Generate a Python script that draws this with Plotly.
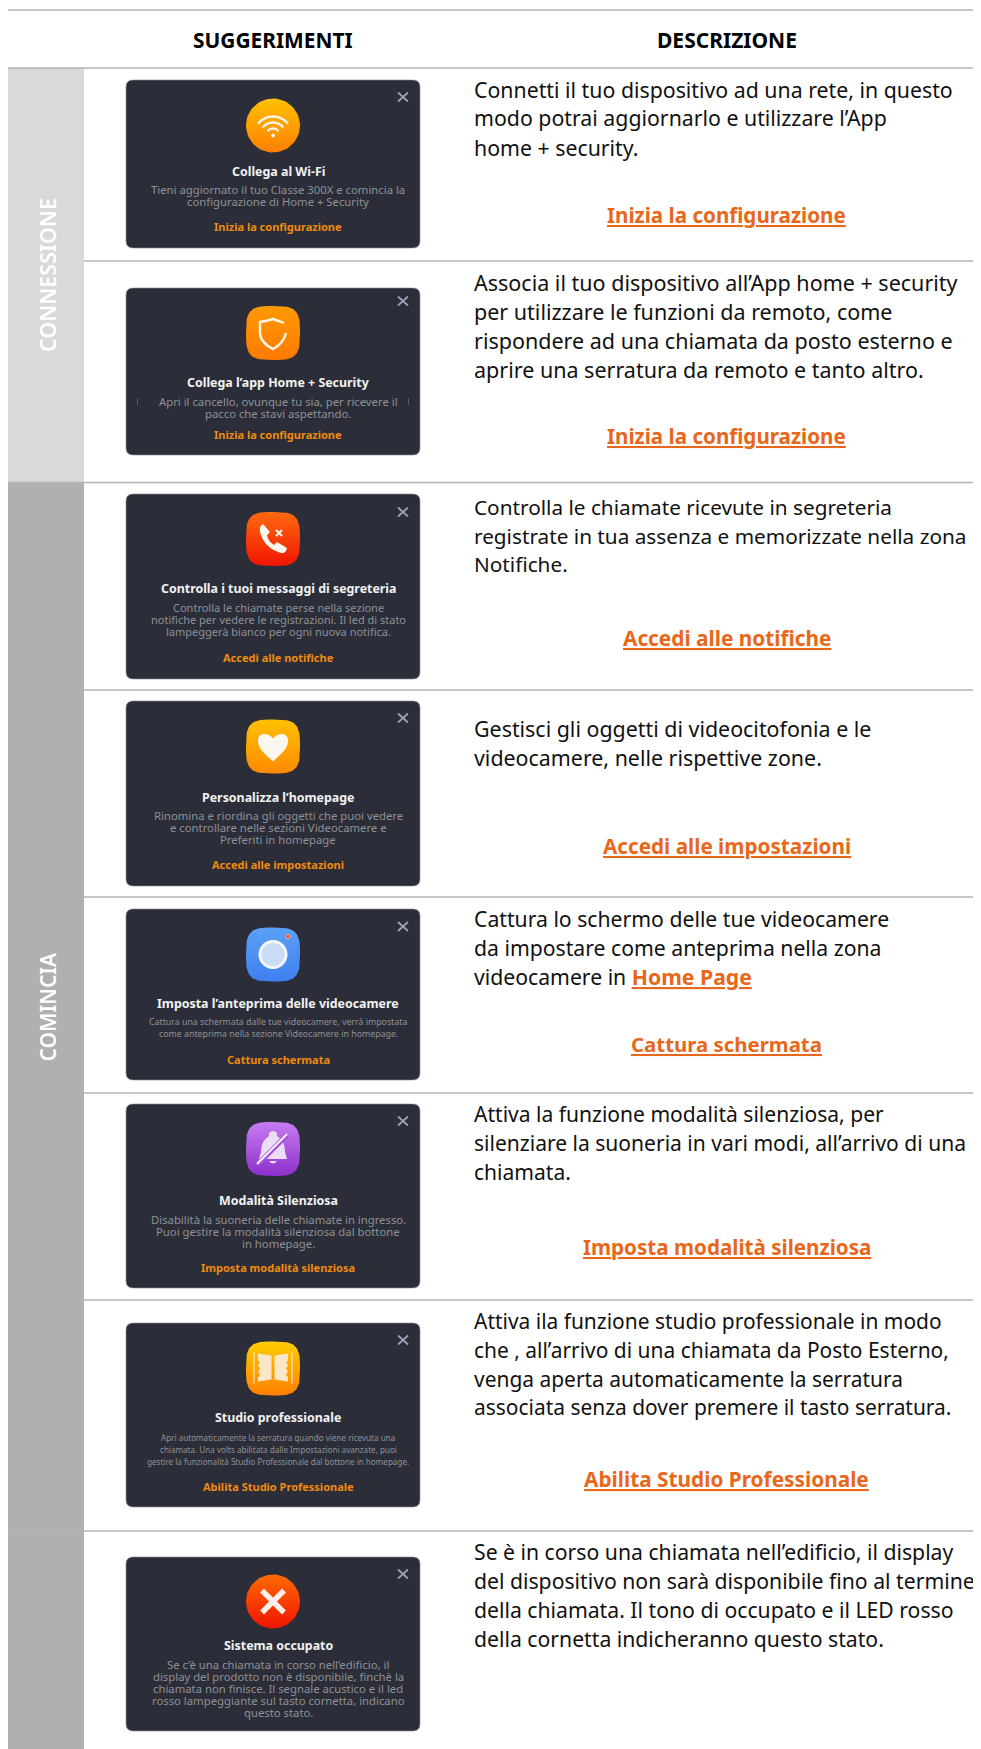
import math
import plotly.graph_objects as go

W, H = 981, 1749
FONT = "Noto Sans"

# ---------- content ----------
HEADERS = ["SUGGERIMENTI", "DESCRIZIONE"]
SECTIONS = ["CONNESSIONE", "COMINCIA"]
CARD_TITLES = ["Collega al Wi-Fi", "Collega l’app Home + Security", "Controlla i tuoi messaggi di segreteria",
               "Personalizza l’homepage", "Imposta l’anteprima delle videocamere", "Modalità Silenziosa",
               "Studio professionale", "Sistema occupato"]
CARD_DESCS = [
    ["Tieni aggiornato il tuo Classe 300X e comincia la", "configurazione di Home + Security"],
    ["Apri il cancello, ovunque tu sia, per ricevere il", "pacco che stavi aspettando."],
    ["Controlla le chiamate perse nella sezione", "notifiche per vedere le registrazioni. Il led di stato", "lampeggerà bianco per ogni nuova notifica."],
    ["Rinomina e riordina gli oggetti che puoi vedere", "e controllare nelle sezioni Videocamere e", "Preferiti in homepage"],
    ["Cattura una schermata dalle tue videocamere, verrà impostata", "come anteprima nella sezione Videocamere in homepage."],
    ["Disabilità la suoneria delle chiamate in ingresso.", "Puoi gestire la modalità silenziosa dal bottone", "in homepage."],
    ["Apri automaticamente la serratura quando viene ricevuta una", "chiamata. Una volts abilitata dalle Impostazioni avanzate, puoi", "gestire la funzionalità Studio Professionale dal bottone in homepage."],
    ["Se c’è una chiamata in corso nell’edificio, il", "display del prodotto non è disponibile, finchè la", "chiamata non finisce. Il segnale acustico e il led", "rosso lampeggiante sul tasto cornetta, indicano", "questo stato."],
]
CARD_LINKS = ["Inizia la configurazione", "Inizia la configurazione", "Accedi alle notifiche", "Accedi alle impostazioni",
              "Cattura schermata", "Imposta modalità silenziosa", "Abilita Studio Professionale", ""]
ROW_LINES = [
    ["Connetti il tuo dispositivo ad una rete, in questo", "modo potrai aggiornarlo e utilizzare l’App", "home + security."],
    ["Associa il tuo dispositivo all’App home + security", "per utilizzare le funzioni da remoto, come", "rispondere ad una chiamata da posto esterno e", "aprire una serratura da remoto e tanto altro."],
    ["Controlla le chiamate ricevute in segreteria", "registrate in tua assenza e memorizzate nella zona", "Notifiche."],
    ["Gestisci gli oggetti di videocitofonia e le", "videocamere, nelle rispettive zone."],
    ["Cattura lo schermo delle tue videocamere", "da impostare come anteprima nella zona", "videocamere in <span style=\"color:#e8671a\"><b><u>Home Page</u></b></span>"],
    ["Attiva la funzione modalità silenziosa, per", "silenziare la suoneria in vari modi, all’arrivo di una", "chiamata."],
    ["Attiva ila funzione studio professionale in modo", "che , all’arrivo di una chiamata da Posto Esterno,", "venga aperta automaticamente la serratura", "associata senza dover premere il tasto serratura."],
    ["Se è in corso una chiamata nell’edificio, il display", "del dispositivo non sarà disponibile fino al termine", "della chiamata. Il tono di occupato e il LED rosso", "della cornetta indicheranno questo stato."],
]
ROW_LINKS = CARD_LINKS

# ---------- layout (page pixels) ----------
LINES = [(8, 10), (8, 68), (84, 261), (8, 482.5), (84, 690), (84, 897), (84, 1093), (84, 1300), (8, 1531)]
CARD_BOX = [(80, 248), (288, 455), (494, 679), (701, 886), (909, 1080), (1104, 1288), (1323, 1507), (1557, 1731)]
ICON_Y = [125.5, 333, 539, 746.5, 954.5, 1149, 1368.5, 1601.5]
CLOSE_Y = [97, 301, 512, 718, 926.5, 1121, 1340, 1574]
TITLE_Y = [171, 382, 588, 797, 1003, 1200, 1417, 1645]
DESC_Y = [[190, 202], [402, 414], [608, 620, 632], [816, 828, 840], [1023, 1035], [1220, 1232, 1244],
          [1438, 1450, 1462], [1665, 1677, 1689, 1701, 1713]]
CLINK_Y = [227, 435, 658, 865, 1060, 1268, 1487, None]
DESC_SIZE = [11.3, 11.3, 11.0, 11.3, 8.8, 11.3, 8.1, 11.3]
TITLE_SIZE = 12.4
ROW_Y = [[90, 118, 148], [283, 312, 341, 370], [507.7, 536.5, 565.4], [729, 758.8], [919, 948, 977.4],
         [1114.4, 1143.4, 1172.4], [1322, 1350.6, 1379.6, 1408], [1552.4, 1581, 1610.4, 1639]]
ROW_SIZE = [21.3, 21.5, 20.75, 21.4, 21.2, 21.05, 20.95, 21.2]
RLINK_Y = [216, 437, 639, 847, 1045.4, 1247.6, 1480, None]
RLINK_SIZE = [20.6, 20.6, 20.8, 20.7, 20.4, 20.6, 20.8, 20]
ICON_GRAD = [("#ffc000", "#ff8000"), ("#ff9a00", "#ff7a00"), ("#ff6a10", "#f01400"), ("#ffc000", "#ff8a00"),
             ("#5ba0f5", "#3f7ff0"), ("#c77cf2", "#8c30cc"), ("#ffcc00", "#ff8000"), ("#ff6a00", "#f01400")]
ICON_ROUND = [True, False, False, False, False, False, False, True]
ICON_X = 273
ICON_S = 54

shapes, annots = [], []
fig = go.Figure()


def text(x, y, s, size, color, anchor="center", weight=None, angle=0):
    font = dict(family=FONT, size=size, color=color)
    if weight == "bold":
        s = f"<b>{s}</b>"
    elif weight:
        font["weight"] = weight
    annots.append(dict(x=x, y=y, xref="x", yref="y", text=s, showarrow=False, xanchor=anchor, yanchor="middle",
                       font=font, textangle=angle, borderpad=0, borderwidth=0))


def rrect(x0, y0, x1, y1, r):
    return (f"M{x0+r},{y0} L{x1-r},{y0} Q{x1},{y0} {x1},{y0+r} L{x1},{y1-r} Q{x1},{y1} {x1-r},{y1} "
            f"L{x0+r},{y1} Q{x0},{y1} {x0},{y1-r} L{x0},{y0+r} Q{x0},{y0} {x0+r},{y0} Z")


def outline(cx, cy, s, is_round):
    xs, ys = [], []
    h = s / 2
    if is_round:
        for i in range(73):
            a = 2 * math.pi * i / 72
            xs.append(cx + h * math.cos(a)); ys.append(cy + h * math.sin(a))
    else:
        n = 3.5  # superellipse, like an app icon
        for i in range(121):
            a = 2 * math.pi * i / 120
            c, t = math.cos(a), math.sin(a)
            xs.append(cx + h * math.copysign(abs(c) ** (2 / n), c))
            ys.append(cy + h * math.copysign(abs(t) ** (2 / n), t))
    return xs, ys


def path(d, fill=None, line=None, width=0, opacity=1):
    shapes.append(dict(type="path", path=d, xref="x", yref="y", layer="above", opacity=opacity,
                       fillcolor=fill or "rgba(0,0,0,0)",
                       line=dict(color=line or "rgba(0,0,0,0)", width=width)))


def arc(cx, cy, r, a0, a1, n=16):
    pts = []
    for i in range(n + 1):
        a = math.radians(a0 + (a1 - a0) * i / n)
        pts.append((cx + r * math.cos(a), cy + r * math.sin(a)))
    return "M" + " L".join(f"{x:.2f},{y:.2f}" for x, y in pts)


def glyph(i, cx, cy):
    white = "#fbf6ee"
    if i == 0:
        for r in (19, 13, 7):
            path(arc(cx, cy + 10, r, 218, 322), line=white, width=2.3)
        path(arc(cx, cy + 10, 1.9, 0, 360) + " Z", fill=white)
    elif i == 1:
        path(f"M{cx+11},{cy-10} Q{cx+3},{cy-13} {cx},{cy-14} Q{cx-6},{cy-12} {cx-13},{cy-11} "
             f"L{cx-13},{cy+1} Q{cx-12},{cy+10} {cx},{cy+16} Q{cx+10},{cy+11} {cx+13},{cy}",
             line=white, width=2.4)
    elif i == 2:
        path(f"M{cx-10},{cy-15} Q{cx-14},{cy-13} {cx-13},{cy-7} Q{cx-9},{cy+9} {cx+8},{cy+14} "
             f"Q{cx+13},{cy+15} {cx+14},{cy+9} L{cx+4},{cy+3} L{cx+1},{cy+6} Q{cx-5},{cy+2} {cx-6},{cy-4} "
             f"L{cx-3},{cy-7} Z", fill=white)
        path(f"M{cx+3},{cy-9} L{cx+9},{cy-3} M{cx+9},{cy-9} L{cx+3},{cy-3}", line=white, width=2)
    elif i == 3:
        path(f"M{cx},{cy+15} C{cx-8},{cy+7} {cx-16},{cy+2} {cx-15},{cy-7} C{cx-14},{cy-14} {cx-5},{cy-14} {cx},{cy-8} "
             f"C{cx+5},{cy-14} {cx+14},{cy-14} {cx+15},{cy-7} C{cx+16},{cy+2} {cx+8},{cy+7} {cx},{cy+15} Z", fill=white)
    elif i == 4:
        path(arc(cx, cy, 13, 0, 360, 48) + " Z", fill="#c9dcf8", line="#f2f6fd", width=3)
        path(arc(cx + 15, cy - 18, 2.2, 0, 360) + " Z", fill="#ff4a2a", line="#f6c6c0", width=0.8)
    elif i == 5:
        path(f"M{cx-4},{cy-16} Q{cx},{cy-20} {cx+4},{cy-16} L{cx+4},{cy-13} Q{cx+12},{cy-8} {cx+12},{cy+3} "
             f"L{cx+14},{cy+10} L{cx-14},{cy+10} L{cx-12},{cy+3} Q{cx-12},{cy-8} {cx-4},{cy-13} Z", fill="#ecdcf6")
        path(f"M{cx-4},{cy+12} Q{cx},{cy+17} {cx+4},{cy+12} Z", fill="#ecdcf6")
        path(f"M{cx-15},{cy+15} L{cx+14},{cy-14}", line="#a24fdc", width=5)
        path(f"M{cx-16},{cy+15} L{cx+14},{cy-15}", line="#f8f0fb", width=2.2)
    elif i == 6:
        for s in (-1, 1):
            path(f"M{cx+s*1.5},{cy-13} L{cx+s*15},{cy-15} L{cx+s*15},{cy-8} L{cx+s*13},{cy-6} L{cx+s*15},{cy-3} "
                 f"L{cx+s*13},{cy} L{cx+s*15},{cy+3} L{cx+s*13},{cy+6} L{cx+s*15},{cy+9} L{cx+s*15},{cy+13} "
                 f"L{cx+s*1.5},{cy+11} Z", fill="#fae7c8")
            path(f"M{cx+s*19},{cy-16} L{cx+s*19},{cy+15}", line="#fae7c8", width=1.2)
    elif i == 7:
        path(f"M{cx-11},{cy-11} L{cx+11},{cy+11} M{cx+11},{cy-11} L{cx-11},{cy+11}", line="#fbf0ea", width=5.5)


# section columns
shapes.append(dict(type="rect", x0=8, x1=84, y0=68, y1=482.5, xref="x", yref="y", layer="below",
                   fillcolor="#d9d9d9", line=dict(width=0)))
shapes.append(dict(type="rect", x0=8, x1=84, y0=482.5, y1=H, xref="x", yref="y", layer="below",
                   fillcolor="#b0b0b0", line=dict(width=0)))
for x0, y in LINES:
    shapes.append(dict(type="line", x0=x0, x1=W, y0=y, y1=y, xref="x", yref="y", layer="above",
                       line=dict(color="#b4b4b4", width=1.5)))

text(47, 275, SECTIONS[0], 21.5, "#ffffff", weight=600, angle=-90)
text(47, 1006.5, SECTIONS[1], 21, "#ffffff", weight=600, angle=-90)
text(273, 40, HEADERS[0], 20.9, "#000000", weight="bold")
text(727, 40, HEADERS[1], 21.0, "#000000", weight="bold")

for i in range(8):
    y0, y1 = CARD_BOX[i]
    shapes.append(dict(type="path", path=rrect(126, y0, 420, y1, 7), xref="x", yref="y", layer="below",
                       fillcolor="#2b2e38", line=dict(color="#8a8d94", width=0.6)))
    xs, ys = outline(ICON_X, ICON_Y[i], ICON_S, ICON_ROUND[i])
    fig.add_trace(go.Scatter(x=xs, y=ys, mode="lines", fill="toself", line=dict(width=0), hoverinfo="skip",
                             showlegend=False,
                             fillgradient=dict(type="vertical",
                                               colorscale=[[0, ICON_GRAD[i][1]], [1, ICON_GRAD[i][0]]])))
    glyph(i, ICON_X, ICON_Y[i])
    cy = CLOSE_Y[i]
    path(f"M398,{cy-4.5} L408,{cy+4.5} M408,{cy-4.5} L398,{cy+4.5}", line="#9aa0b8", width=1.8)
    text(278, TITLE_Y[i], CARD_TITLES[i], TITLE_SIZE, "#f2f2f2", weight="bold")
    for y, s in zip(DESC_Y[i], CARD_DESCS[i]):
        text(278, y - 1, s, DESC_SIZE[i], "#8f9096")
    if CLINK_Y[i]:
        text(278, CLINK_Y[i] - 1, CARD_LINKS[i], 11, "#f08a10", weight="bold")
    for y, s in zip(ROW_Y[i], ROW_LINES[i]):
        text(473.5, y - 1, s, ROW_SIZE[i], "#111111", anchor="left")
    if RLINK_Y[i]:
        text(726.7, RLINK_Y[i] - 1, f"<u>{ROW_LINKS[i]}</u>", RLINK_SIZE[i], "#e8671a", weight="bold")

# the two tiny marks beside the text of the second card
path("M137.5,398 L137.5,405 M408.5,398 L408.5,405", line="#6f7178", width=0.7)

# The page body has an 8 px margin; the axes run in page pixels so positions.
fig.update_layout(
    width=W - 8, height=H - 8, margin=dict(l=0, r=0, t=0, b=0), paper_bgcolor="#ffffff", plot_bgcolor="#ffffff",
    xaxis=dict(range=[8, W], visible=False, fixedrange=True),
    yaxis=dict(range=[H, 8], visible=False, fixedrange=True),
    shapes=shapes, annotations=annots, showlegend=False,
)
fig.write_html("out.html", config={"displayModeBar": False})
